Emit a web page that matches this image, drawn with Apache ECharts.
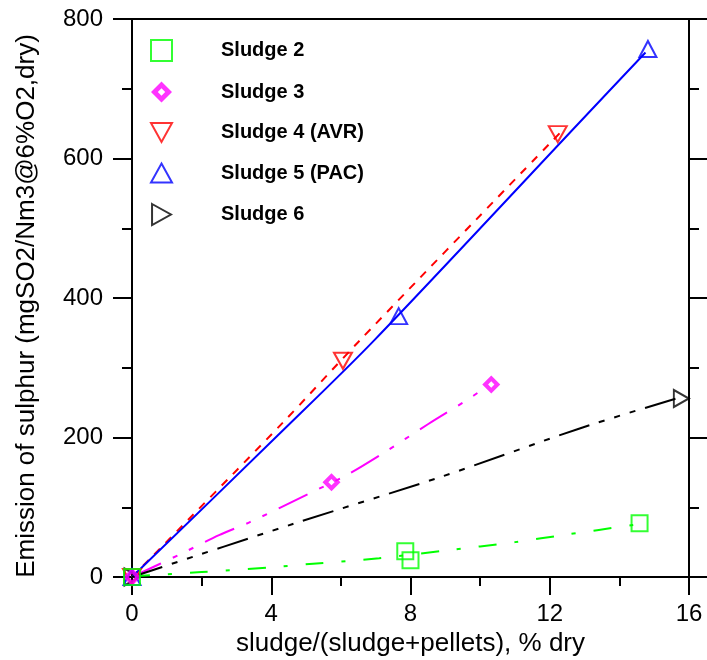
<!DOCTYPE html>
<html><head><meta charset="utf-8">
<script src="https://cdn.jsdelivr.net/npm/echarts@6/dist/echarts.min.js"></script>
<style>html,body{margin:0;padding:0;background:#fff}#c{width:707px;height:660px}</style>
</head><body><div id="c"></div>
<script>
// ---- data ----
const seriesNames = ['Sludge 2', 'Sludge 3', 'Sludge 4 (AVR)', 'Sludge 5 (PAC)', 'Sludge 6'];
const xTitle = 'sludge/(sludge+pellets), % dry';
const yTitle = 'Emission of sulphur (mgSO2/Nm3@6%O2,dry)';
const xRange = [0, 16, 4];
const yRange = [0, 800, 200];

// measured points [x, y]
const sludge2 = [[0, 0], [7.85, 37], [8.0, 24], [14.58, 77]];
const sludge3 = [[0, 0], [5.73, 136], [10.32, 276]];
const sludge4 = [[0, 0], [6.06, 310], [12.23, 635]];
const sludge5 = [[0, 0], [7.66, 374], [14.82, 757]];
const sludge6 = [[0, 0], [15.78, 256]];

// fitted trend curves
const fit2 = [[0, 1], [2, 7], [4, 14], [5.2, 19], [7.1, 27], [9, 38], [11, 50], [12.5, 61], [14.6, 76]];
const fit3 = [[0, 0], [1.4, 33], [2.5, 60], [3.4, 79], [5.06, 119], [6.2, 147], [7.2, 177], [8.5, 219], [9.6, 253], [10.1, 270]];
const fit4 = [[0, 0], [4.25, 217], [6.54, 339], [12.3, 637]];
const fit5 = [[0, 0], [4.25, 206], [6.97, 340], [12.86, 652], [14.75, 752]];
const fit6 = [[0, 0], [4.62, 76], [8.84, 143], [12.86, 213], [15.7, 257]];

// ---- styling ----
const C = { s2: '#00ff00', s3: '#ff00ff', s4: '#ff0000', s5: '#0000ff', s6: '#000000' };
const FONT = '"Liberation Sans", Arial, sans-serif';
const SYM = {
  square: 'rect',
  diamondRing: 'path://M10,0L20,10L10,20L0,10Z M10,6.5L6.5,10L10,13.5L13.5,10Z',
  down: 'path://M0,0L10,0L5,9Z',
  up: 'path://M5,0L10,9L0,9Z',
  right: 'path://M0,0L9,5L0,10Z'
};

function hollow(color) { return { color: 'transparent', borderColor: color, borderWidth: 2 }; }

function scatter(name, data, symbol, size, style, z) {
  return { name, type: 'scatter', data, symbol, symbolSize: size, itemStyle: style, z: z || 5, xAxisIndex: 0, yAxisIndex: 0 };
}
function fit(name, data, color, dash) {
  return {
    name, type: 'line', data, showSymbol: false, symbol: 'none', smooth: 0.3, silent: true, z: 3,
    lineStyle: { color, width: 2, type: dash }, xAxisIndex: 0, yAxisIndex: 0
  };
}

const tickStyle = { color: '#000', width: 2 };
const axisText = { color: '#000', fontSize: 24, fontFamily: FONT };

const option = {
  animation: false,
  backgroundColor: '#fff',
  grid: { left: 132, right: 18, top: 19, bottom: 83, containLabel: false, outerBoundsMode: 'none' },
  legend: {
    orient: 'vertical', left: 145, top: 34,
    itemWidth: 21, itemHeight: 21, itemGap: 19.5,
    selectedMode: false,
    symbolKeepAspect: true,
    textStyle: { color: '#000', fontSize: 20, fontWeight: 'bold', fontFamily: FONT, padding: [0, 0, 0, 44], lineHeight: 21 },
    data: [
      { name: seriesNames[0], icon: SYM.square, itemStyle: hollow(C.s2) },
      { name: seriesNames[1], icon: SYM.diamondRing, itemStyle: { color: C.s3, borderWidth: 0 } },
      { name: seriesNames[2], icon: SYM.down, itemStyle: hollow(C.s4) },
      { name: seriesNames[3], icon: SYM.up, itemStyle: hollow(C.s5) },
      { name: seriesNames[4], icon: SYM.right, itemStyle: hollow(C.s6) }
    ]
  },
  xAxis: [{
    type: 'value', position: 'bottom', min: xRange[0], max: xRange[1], interval: xRange[2],
    axisLine: { show: true, onZero: false, lineStyle: tickStyle },
    axisTick: { show: true, inside: false, length: 18, lineStyle: tickStyle },
    minorTick: { show: true, splitNumber: 2, length: 9, lineStyle: tickStyle },
    splitLine: { show: false },
    axisLabel: Object.assign({ margin: 25 }, axisText),
    name: xTitle, nameLocation: 'middle', nameGap: 53,
    nameTextStyle: { color: '#000', fontSize: 26, fontFamily: FONT }
  }, {
    type: 'value', position: 'top', min: xRange[0], max: xRange[1], interval: xRange[2],
    axisLine: { show: true, onZero: false, lineStyle: tickStyle },
    axisTick: { show: false }, axisLabel: { show: false }, splitLine: { show: false }
  }],
  yAxis: [{
    type: 'value', position: 'left', min: yRange[0], max: yRange[1], interval: yRange[2],
    axisLine: { show: true, onZero: false, lineStyle: tickStyle },
    axisTick: { show: true, inside: false, length: 19, lineStyle: tickStyle },
    minorTick: { show: true, splitNumber: 2, length: 10, lineStyle: tickStyle },
    splitLine: { show: false },
    axisLabel: Object.assign({ margin: 29 }, axisText),
    name: yTitle, nameLocation: 'middle', nameGap: 92,
    nameTextStyle: { color: '#000', fontSize: 26, fontFamily: FONT, padding: [0, 16, 0, 0] }
  }, {
    type: 'value', position: 'right', min: yRange[0], max: yRange[1], interval: yRange[2],
    axisLine: { show: true, onZero: false, lineStyle: tickStyle },
    axisTick: { show: true, inside: false, length: 19, lineStyle: tickStyle },
    minorTick: { show: true, splitNumber: 2, length: 10, lineStyle: tickStyle },
    axisLabel: { show: false }, splitLine: { show: false }
  }],
  series: [
    fit('fit2', fit2, C.s2, [18, 18, 4, 18]),
    fit('fit3', fit3, C.s3, [32, 13, 5, 13, 5, 13]),
    fit('fit4', fit4, C.s4, [8, 8]),
    fit('fit5', fit5, C.s5, 'solid'),
    fit('fit6', fit6, C.s6, [32, 10, 6, 10, 6, 10, 6, 10]),
    scatter(seriesNames[4], sludge6, SYM.right, [15, 17], hollow(C.s6), 5),
    scatter(seriesNames[2], sludge4, SYM.down, [18, 16], hollow(C.s4), 5),
    scatter(seriesNames[3], sludge5, SYM.up, [17, 16], hollow(C.s5), 5),
    scatter(seriesNames[1], sludge3, SYM.diamondRing, 18, { color: C.s3, borderWidth: 0 }, 6),
    scatter(seriesNames[0], sludge2, SYM.square, 16, hollow(C.s2), 7)
  ]
};

const chart = echarts.init(document.getElementById('c'), null, { renderer: 'canvas' });
chart.setOption(option);
</script>
</body></html>
